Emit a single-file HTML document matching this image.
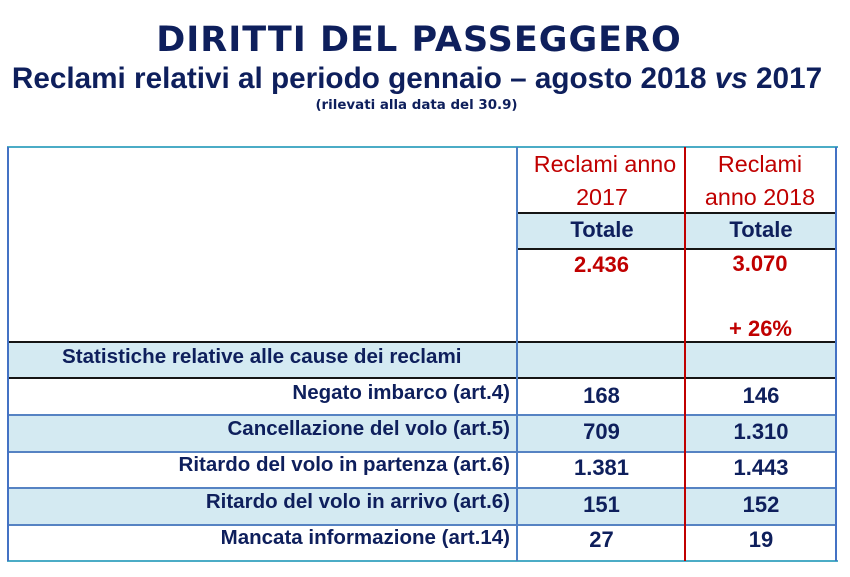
<!DOCTYPE html>
<html>
<head>
<meta charset="utf-8">
<style>
  html, body { margin:0; padding:0; background:#ffffff; }
  body { width:850px; height:577px; position:relative; overflow:hidden; }
  .a { position:absolute; white-space:nowrap; line-height:1; }
  .ls { font-family:"Liberation Sans", Arial, sans-serif; }
  .dj { font-family:"DejaVu Sans", Verdana, sans-serif; }
  .navy { color:#0e1f5c; }
  .red { color:#c00000; }
  .b { font-weight:bold; }
  .r { position:absolute; }
  .c { text-align:center; }
</style>
</head>
<body>

<!-- Titles -->
<div class="a dj b navy c" style="left:0; width:838px; top:23.4px; font-size:35px; letter-spacing:1px;">DIRITTI DEL PASSEGGERO</div>
<div class="a ls b navy c" style="left:0; width:834px; top:63.9px; font-size:29.7px;">Reclami relativi al periodo gennaio – agosto 2018 <i>vs</i> 2017</div>
<div class="a dj b navy c" style="left:0; width:833px; top:98.7px; font-size:13.4px;">(rilevati alla data del 30.9)</div>

<!-- Table fills -->
<div class="r" style="left:517px; top:213px; width:319px; height:36px; background:#d4eaf2;"></div>
<div class="r" style="left:8px; top:342px; width:828px; height:36px; background:#d4eaf2;"></div>
<div class="r" style="left:8px; top:415px; width:828px; height:37px; background:#d4eaf2;"></div>
<div class="r" style="left:8px; top:488px; width:828px; height:37px; background:#d4eaf2;"></div>

<!-- Horizontal black lines -->
<div class="r" style="left:517px; top:212px; width:319px; height:2px; background:#151515;"></div>
<div class="r" style="left:517px; top:248px; width:319px; height:2px; background:#151515;"></div>
<div class="r" style="left:8px; top:341px; width:828px; height:2px; background:#151515;"></div>
<div class="r" style="left:8px; top:377px; width:828px; height:2px; background:#151515;"></div>

<!-- Horizontal blue lines -->
<div class="r" style="left:8px; top:414px; width:828px; height:2px; background:#5683c3;"></div>
<div class="r" style="left:8px; top:451px; width:828px; height:2px; background:#5683c3;"></div>
<div class="r" style="left:8px; top:487px; width:828px; height:2px; background:#5683c3;"></div>
<div class="r" style="left:8px; top:524px; width:828px; height:2px; background:#5683c3;"></div>

<!-- Outer border top/bottom teal -->
<div class="r" style="left:7px; top:146px; width:831px; height:2px; background:#4bacc6;"></div>
<div class="r" style="left:7px; top:560px; width:831px; height:2px; background:#4bacc6;"></div>

<!-- Verticals -->
<div class="r" style="left:7px; top:147px; width:2px; height:414px; background:#4472c4;"></div>
<div class="r" style="left:516px; top:147px; width:2px; height:414px; background:#4f7fc4;"></div>
<div class="r" style="left:684px; top:147px; width:2px; height:414px; background:#c00000;"></div>
<div class="r" style="left:835px; top:147px; width:2px; height:414px; background:#4472c4;"></div>

<!-- Header red -->
<div class="a ls red c" style="left:505px; width:200px; top:153px; font-size:23.3px;">Reclami anno</div>
<div class="a ls red c" style="left:502px; width:200px; top:185.5px; font-size:23.3px;">2017</div>
<div class="a ls red c" style="left:660px; width:200px; top:153px; font-size:23.3px;">Reclami</div>
<div class="a ls red c" style="left:660px; width:200px; top:185.5px; font-size:23.3px;">anno 2018</div>

<!-- Totale -->
<div class="a ls b navy c" style="left:502px; width:200px; top:219px; font-size:22px;">Totale</div>
<div class="a ls b navy c" style="left:661px; width:200px; top:219px; font-size:22px;">Totale</div>

<!-- Totals -->
<div class="a ls b red c" style="left:501.5px; width:200px; top:254.4px; font-size:22px;">2.436</div>
<div class="a ls b red c" style="left:660px; width:200px; top:253.4px; font-size:22px;">3.070</div>
<div class="a ls b red c" style="left:660.5px; width:200px; top:317.9px; font-size:22px;">+ 26%</div>

<!-- Stats header -->
<div class="a ls b navy" style="left:62px; top:346.7px; font-size:20.6px;">Statistiche relative alle cause dei reclami</div>

<!-- Labels -->
<div class="a ls b navy" style="right:340px; top:382.7px; font-size:20.5px;">Negato imbarco (art.4)</div>
<div class="a ls b navy" style="right:340px; top:419.4px; font-size:20.5px;">Cancellazione del volo (art.5)</div>
<div class="a ls b navy" style="right:340px; top:455.4px; font-size:20.5px;">Ritardo del volo in partenza (art.6)</div>
<div class="a ls b navy" style="right:340px; top:491.7px; font-size:20.5px;">Ritardo del volo in arrivo (art.6)</div>
<div class="a ls b navy" style="right:340px; top:527.7px; font-size:20.5px;">Mancata informazione (art.14)</div>

<!-- Numbers col 2017 -->
<div class="a ls b navy c" style="left:501.5px; width:200px; top:385.4px; font-size:22px;">168</div>
<div class="a ls b navy c" style="left:501.5px; width:200px; top:421.4px; font-size:22px;">709</div>
<div class="a ls b navy c" style="left:501.5px; width:200px; top:457.4px; font-size:22px;">1.381</div>
<div class="a ls b navy c" style="left:501.5px; width:200px; top:494.1px; font-size:22px;">151</div>
<div class="a ls b navy c" style="left:501.5px; width:200px; top:529.4px; font-size:22px;">27</div>

<!-- Numbers col 2018 -->
<div class="a ls b navy c" style="left:661px; width:200px; top:385.4px; font-size:22px;">146</div>
<div class="a ls b navy c" style="left:661px; width:200px; top:421.4px; font-size:22px;">1.310</div>
<div class="a ls b navy c" style="left:661px; width:200px; top:457.4px; font-size:22px;">1.443</div>
<div class="a ls b navy c" style="left:661px; width:200px; top:494.1px; font-size:22px;">152</div>
<div class="a ls b navy c" style="left:661px; width:200px; top:529.4px; font-size:22px;">19</div>

</body>
</html>
